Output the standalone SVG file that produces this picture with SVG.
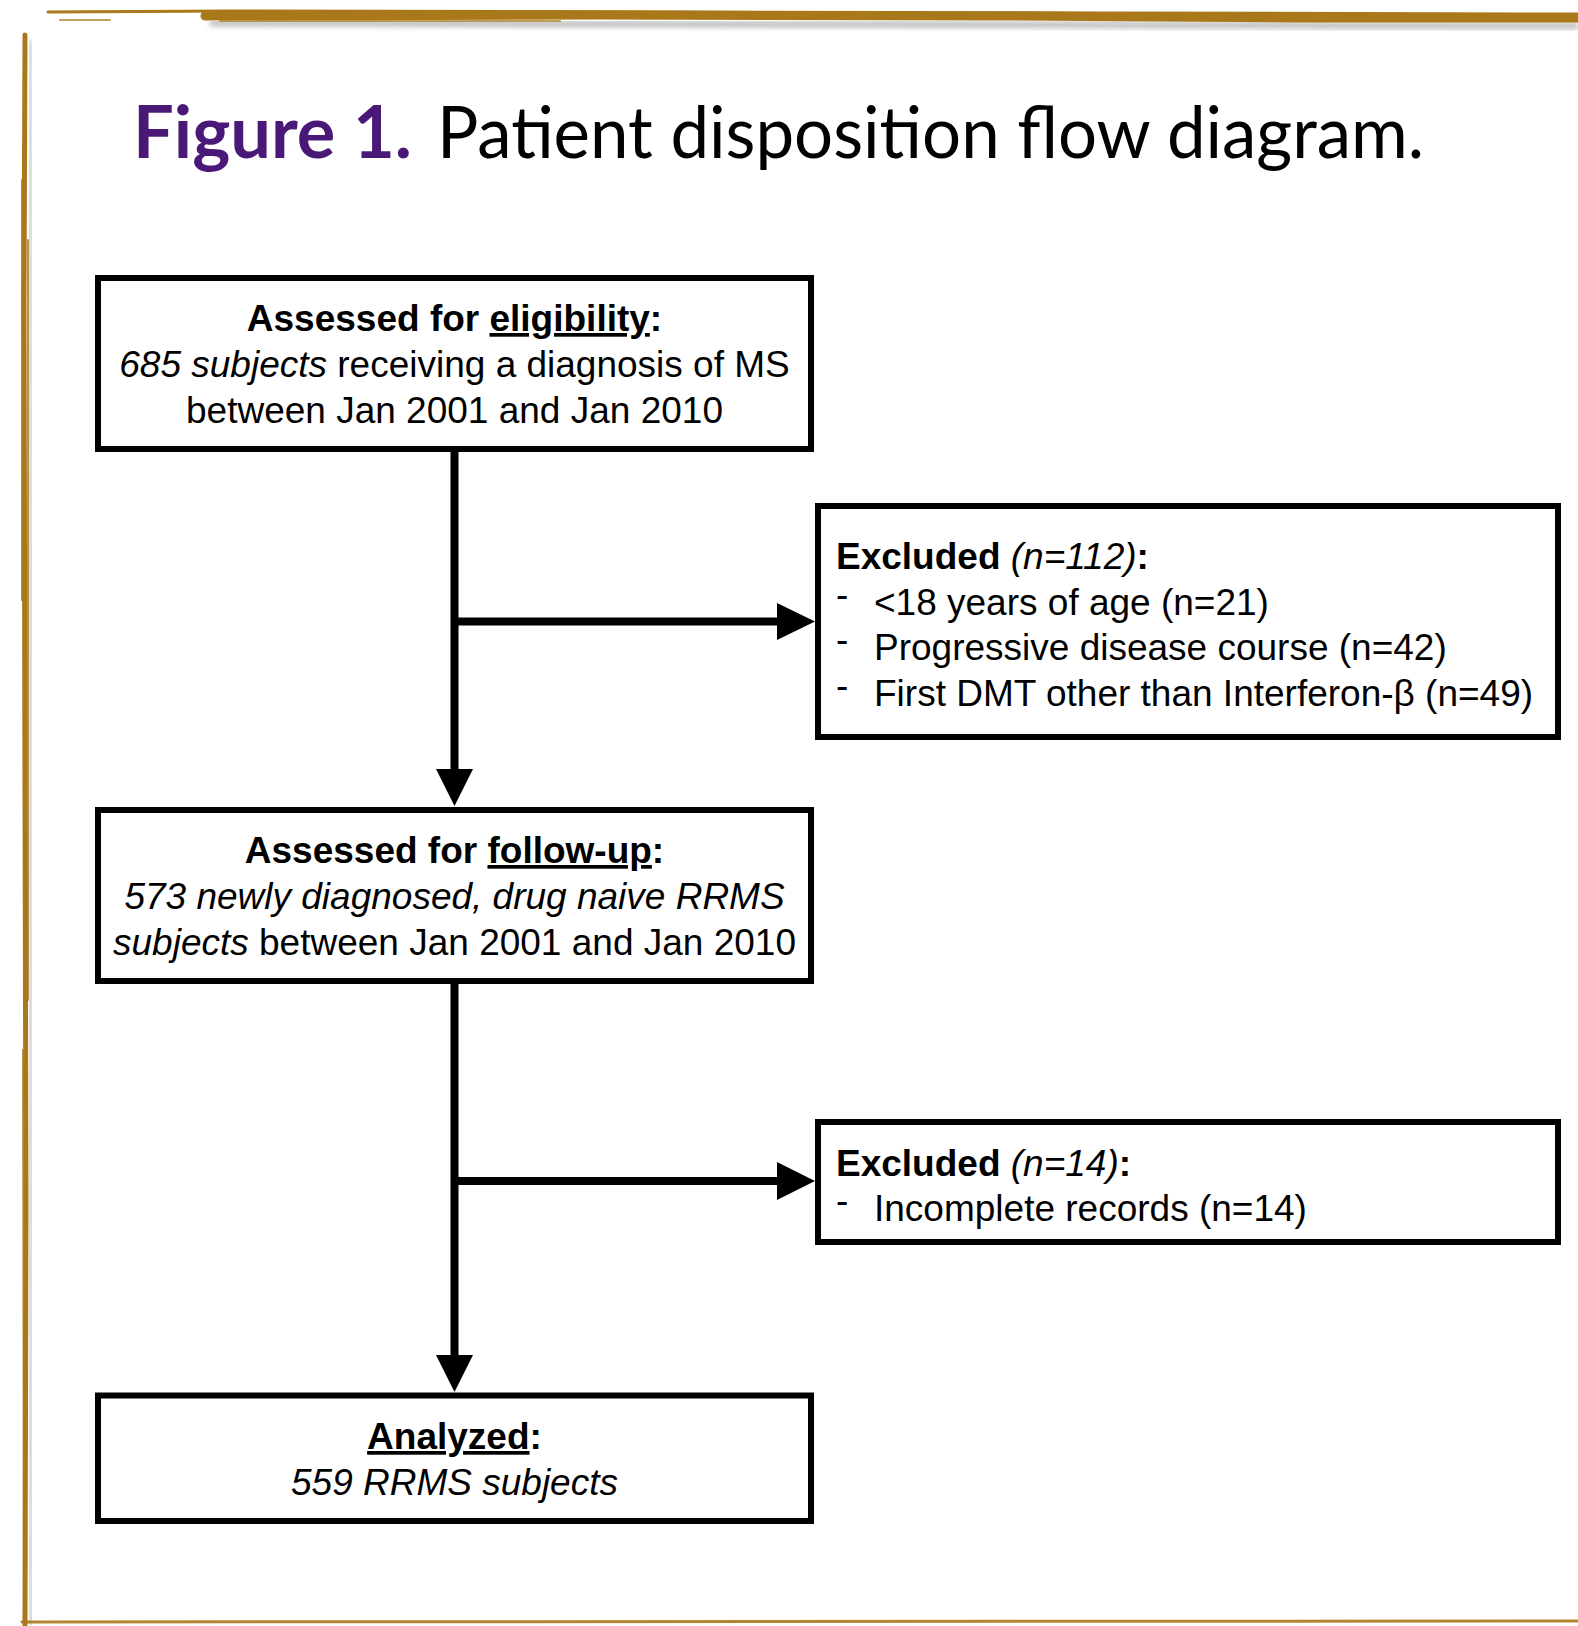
<svg xmlns="http://www.w3.org/2000/svg" width="1578" height="1626" viewBox="0 0 1578 1626">
<style>
.box{fill:#fff;stroke:#000;stroke-width:6}
.t{font-family:"Liberation Sans",Arial,sans-serif;font-size:37px;fill:#000}
.c{text-anchor:middle}
.b{font-weight:bold}
.i{font-style:italic}
.u{text-decoration:underline}
.ln{stroke:#000;stroke-width:8;fill:none}
.ah{fill:#000}
.gold{stroke:#a8781a;fill:none;stroke-linecap:round}
</style>
<defs>
<filter id="sh" x="-5%" y="-50%" width="110%" height="300%">
<feGaussianBlur stdDeviation="2.5"/>
</filter>
</defs>
<rect x="0" y="0" width="1578" height="1626" fill="#fff"/>
<g id="frame">
<path d="M210,23 L1578,26" stroke="#999" stroke-width="7" opacity="0.6" filter="url(#sh)" fill="none"/>
<path d="M30,40 L31,1626" stroke="#999" stroke-width="5" opacity="0.5" filter="url(#sh)" fill="none"/>
<path class="gold" d="M48,12 L230,11 L700,12 L1100,13 L1578,14" stroke-width="3"/>
<path class="gold" d="M205,16 L600,15 L1000,16 L1300,18 L1578,18" stroke-width="9"/>
<path class="gold" d="M60,20 L110,20 M220,21 L560,21" stroke-width="2" opacity="0.7"/>
<path class="gold" d="M25,35 L24,300 L25,800 L26,1200 L25,1626" stroke-width="5"/>
<path class="gold" d="M22,180 L22,600 M28,240 L28,1000 M23,1050 L24,1626" stroke-width="2" opacity="0.8"/>
<path class="gold" d="M22,1622 L1578,1621" stroke-width="3" opacity="0.9"/>
</g>
<g id="title">
<text x="133" y="158" font-family="Lato,'Open Sans',sans-serif" font-size="72" font-weight="bold" fill="#4a1877" textLength="279" lengthAdjust="spacingAndGlyphs">Figure 1.</text>
<text x="437" y="158" font-family="Lato,'Open Sans',sans-serif" font-size="72" fill="#000" textLength="987" lengthAdjust="spacingAndGlyphs">Patient disposition flow diagram.</text>
</g>
<g id="connectors">
<line class="ln" x1="454.5" y1="449" x2="454.5" y2="772"/>
<polygon class="ah" points="436,769 473,769 454.5,806"/>
<line class="ln" x1="454.5" y1="621.5" x2="780" y2="621.5"/>
<polygon class="ah" points="777,603 777,640 815,621.5"/>
<line class="ln" x1="454.5" y1="981" x2="454.5" y2="1358"/>
<polygon class="ah" points="436,1355 473,1355 454.5,1392"/>
<line class="ln" x1="454.5" y1="1181" x2="780" y2="1181"/>
<polygon class="ah" points="777,1162 777,1200 815,1181"/>
</g>
<g id="eligibility">
<rect class="box" x="98" y="278" width="713" height="171"/>
<text class="t c" x="454.5" y="331"><tspan class="b">Assessed for </tspan><tspan class="b u">eligibility</tspan><tspan class="b">:</tspan></text>
<text class="t c" x="454.5" y="377"><tspan class="i">685 subjects</tspan> receiving a diagnosis of MS</text>
<text class="t c" x="454.5" y="423">between Jan 2001 and Jan 2010</text>
</g>
<g id="excluded1">
<rect class="box" x="818" y="506" width="740" height="231"/>
<text class="t" x="836" y="569"><tspan class="b">Excluded</tspan> <tspan class="i">(n=112)</tspan><tspan class="b">:</tspan></text>
<text class="t" x="836" y="607">-</text>
<text class="t" x="874" y="615">&lt;18 years of age (n=21)</text>
<text class="t" x="836" y="652">-</text>
<text class="t" x="874" y="660">Progressive disease course (n=42)</text>
<text class="t" x="836" y="698">-</text>
<text class="t" x="874" y="706">First DMT other than Interferon-β (n=49)</text>
</g>
<g id="followup">
<rect class="box" x="98" y="810" width="713" height="171"/>
<text class="t c" x="454.5" y="863"><tspan class="b">Assessed for </tspan><tspan class="b u">follow-up</tspan><tspan class="b">:</tspan></text>
<text class="t c i" x="454.5" y="909">573 newly diagnosed, drug naive RRMS</text>
<text class="t c" x="454.5" y="955"><tspan class="i">subjects</tspan> between Jan 2001 and Jan 2010</text>
</g>
<g id="excluded2">
<rect class="box" x="818" y="1122" width="740" height="120"/>
<text class="t" x="836" y="1176"><tspan class="b">Excluded</tspan> <tspan class="i">(n=14)</tspan><tspan class="b">:</tspan></text>
<text class="t" x="836" y="1213">-</text>
<text class="t" x="874" y="1221">Incomplete records (n=14)</text>
</g>
<g id="analyzed">
<rect class="box" x="98" y="1395.5" width="713" height="125.5"/>
<text class="t c" x="454.5" y="1449"><tspan class="b u">Analyzed</tspan><tspan class="b">:</tspan></text>
<text class="t c i" x="454.5" y="1495">559 RRMS subjects</text>
</g>
</svg>
